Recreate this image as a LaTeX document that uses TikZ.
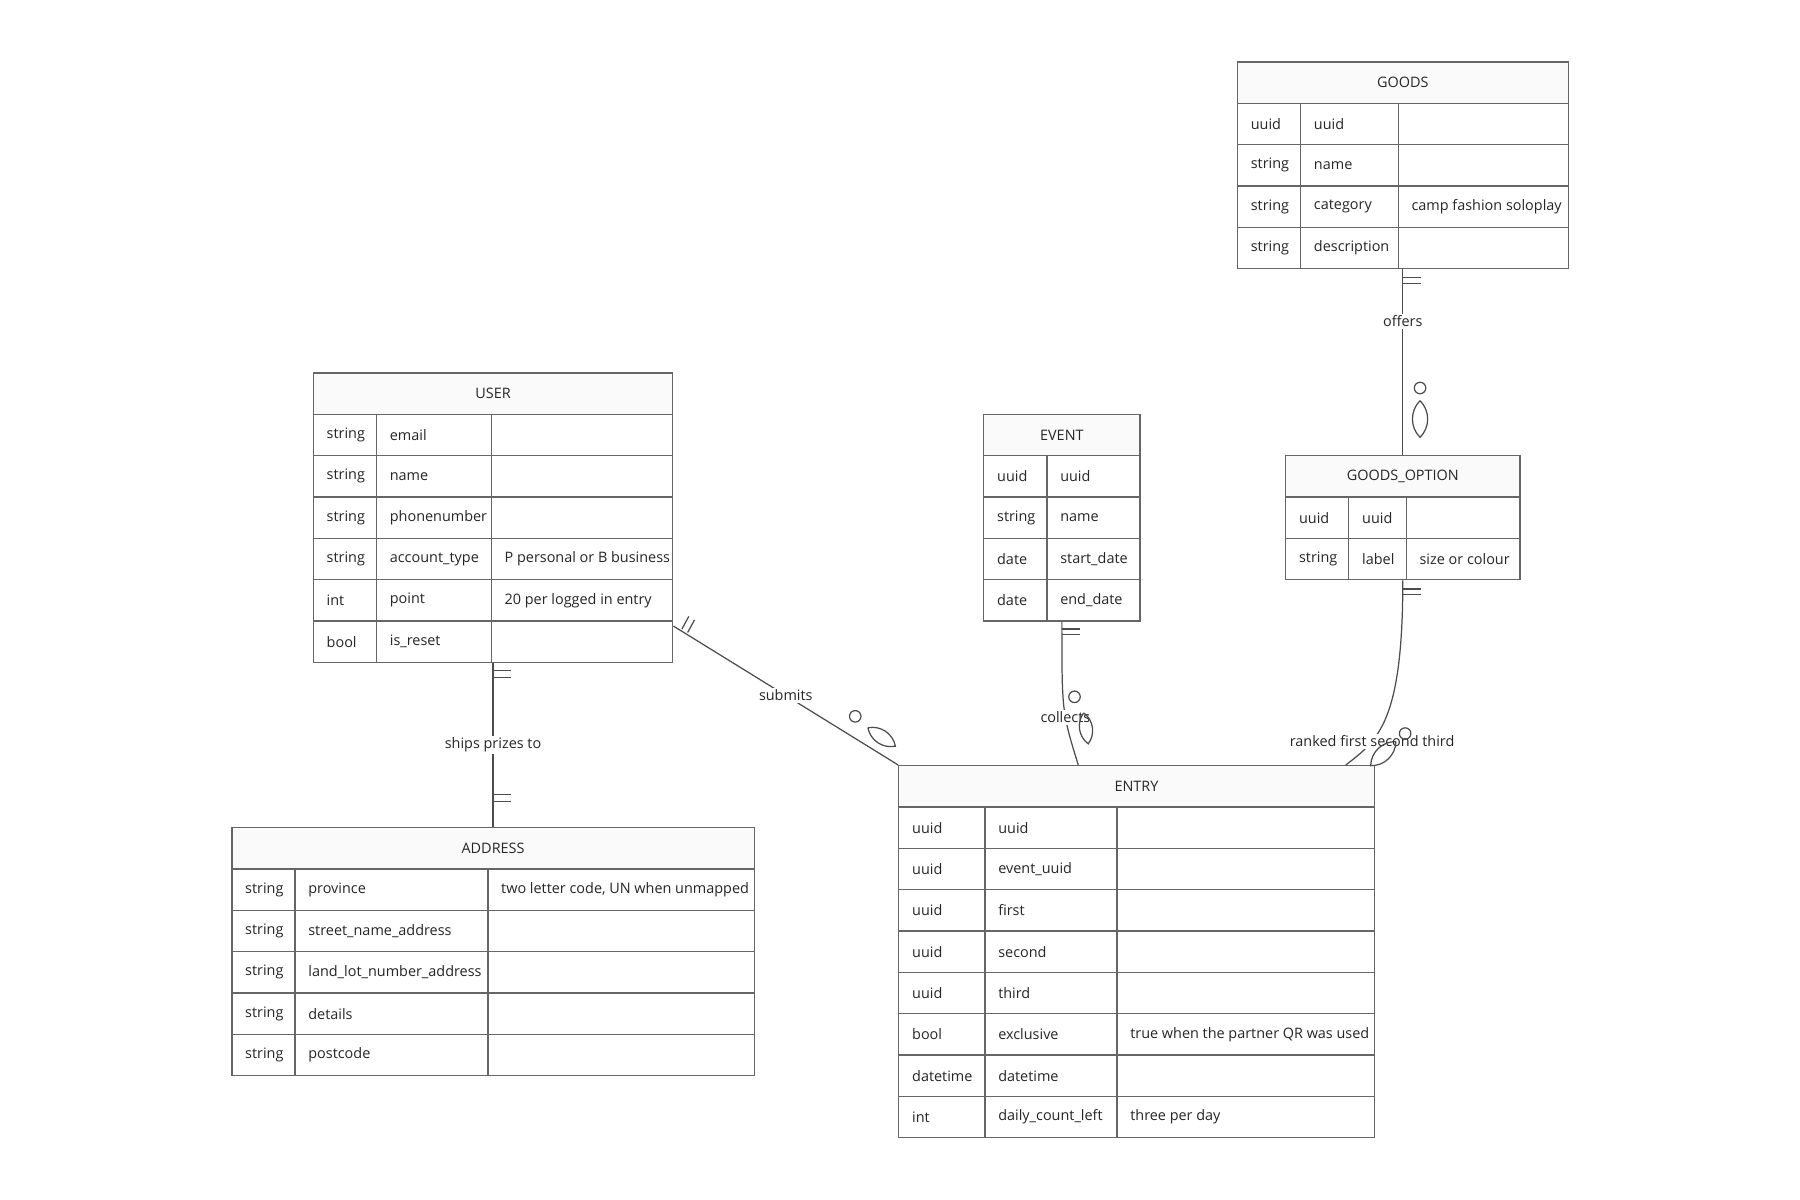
\documentclass[tikz,border=0pt]{standalone}
\usepackage{fontspec}
\setmainfont{Open Sans}
\usetikzlibrary{fit}
\definecolor{erline}{HTML}{666666}
\definecolor{hdfill}{HTML}{FAFAFA}
\tikzset{
  erl/.style={draw=erline, line width=0.35pt},
  txt/.style={font=\fontsize{4.1}{5}\selectfont, text=black!85, inner sep=0pt},
  rel/.style={erl, draw=black!70},
  lbl/.style={txt, fill=white, inner sep=0.5pt}
}
% #1 name, #2 title, #3 top, #4-#7 column edges, #8 rows, #9 row count
\newcommand{\erentity}[9]{
  \draw[erl, fill=hdfill] (#4,#3) rectangle (#7,#3+36);
  \node[txt] at ({(#4+#7)/2},#3+18) {#2};
  \foreach \t/\f/\c [count=\i] in {#8} {
    \draw[erl, fill=white] (#4,#3+36*\i) rectangle (#7,#3+36*\i+36);
    \draw[erl] (#5,#3+36*\i) -- (#5,#3+36*\i+36);
    \draw[erl] (#6,#3+36*\i) -- (#6,#3+36*\i+36);
    \node[txt, anchor=west] at (#4+11,#3+36*\i+18) {\t};
    \node[txt, anchor=west] at (#5+11,#3+36*\i+18) {\f};
    \node[txt, anchor=west] at (#6+11,#3+36*\i+18) {\c};
  }
  \coordinate (#1-nw) at (#4,#3);
  \coordinate (#1-se) at (#7,#3+36+36*#9);
  \node[fit=(#1-nw)(#1-se), inner sep=0pt] (#1) {};
}
\newcommand{\lens}[4]{% from, to
  \draw[rel] (#1,#2) to[bend left=45] (#3,#4) to[bend left=45] (#1,#2);
}
\begin{document}
\begin{tikzpicture}[x=0.01148cm, y=-0.01148cm]
  \useasboundingbox (0,0) rectangle (1568,1045);

  % entities
  \erentity{goods}{GOODS}{54}{1078}{1133}{1218}{1366}{uuid/uuid/{}, string/name/{}, string/category/{camp fashion soloplay}, string/description/{}}{4}
  \erentity{user}{USER}{325}{273}{328}{428}{586}{string/email/{}, string/name/{}, string/phonenumber/{}, string/account\_type/{P personal or B business}, int/point/{20 per logged in entry}, bool/is\_reset/{}}{6}
  \erentity{event}{EVENT}{361}{857}{912}{993}{993}{uuid/uuid/{}, string/name/{}, date/start\_date/{}, date/end\_date/{}}{4}
  \erentity{goodsopt}{GOODS\_OPTION}{397}{1120}{1175}{1225}{1324}{uuid/uuid/{}, string/label/{size or colour}}{2}
  \erentity{address}{ADDRESS}{721}{202}{257}{425}{657}{string/province/{two letter code, UN when unmapped}, string/street\_name\_address/{}, string/land\_lot\_number\_address/{}, string/details/{}, string/postcode/{}}{5}
  \erentity{entry}{ENTRY}{667}{783}{858}{973}{1197}{uuid/uuid/{}, uuid/event\_uuid/{}, uuid/first/{}, uuid/second/{}, uuid/third/{}, bool/exclusive/{true when the partner QR was used}, datetime/datetime/{}, int/daily\_count\_left/{three per day}}{8}

  % relationships
  \draw[rel] (goods.south) -- (goodsopt.north) node[lbl, pos=0.28] {offers};
  \draw[rel] (user.south) -- (address.north) node[lbl, midway] {ships prizes to};
  \draw[rel] ([yshift=0.37cm]user.south east) -- (entry.north west) node[lbl, pos=0.5] {submits};
  \draw[rel] (event.south) .. controls (925,620) .. ([xshift=1.8cm]entry.north west) node[lbl, pos=0.6] {collects};
  \draw[rel] (goodsopt.south) .. controls (1222,630) and (1200,645) .. ([xshift=-0.29cm]entry.north east) node[lbl, pos=0.7] {ranked first second third};

  % cardinality marks
  \draw[rel] (1222,242) -- (1238,242) (1222,247) -- (1238,247);
  \draw[rel] (1237,338) circle (5);
  \lens{1237}{349}{1237}{381}
  \draw[rel] (430,584) -- (445,584) (430,590) -- (445,590);
  \draw[rel] (430,692) -- (445,692) (430,698) -- (445,698);
  \draw[rel] (594,548) -- (600,537) (599,551) -- (605,540);
  \draw[rel] (745,624) circle (5);
  \lens{756}{634}{780}{650}
  \draw[rel] (925,548) -- (941,548) (925,553) -- (941,553);
  \draw[rel] (936,607) circle (5);
  \lens{944}{621}{948}{648}
  \draw[rel] (1222,513) -- (1238,513) (1222,518) -- (1238,518);
  \draw[rel] (1224,639) circle (5);
  \lens{1216}{646}{1194}{667}
\end{tikzpicture}
\end{document}
